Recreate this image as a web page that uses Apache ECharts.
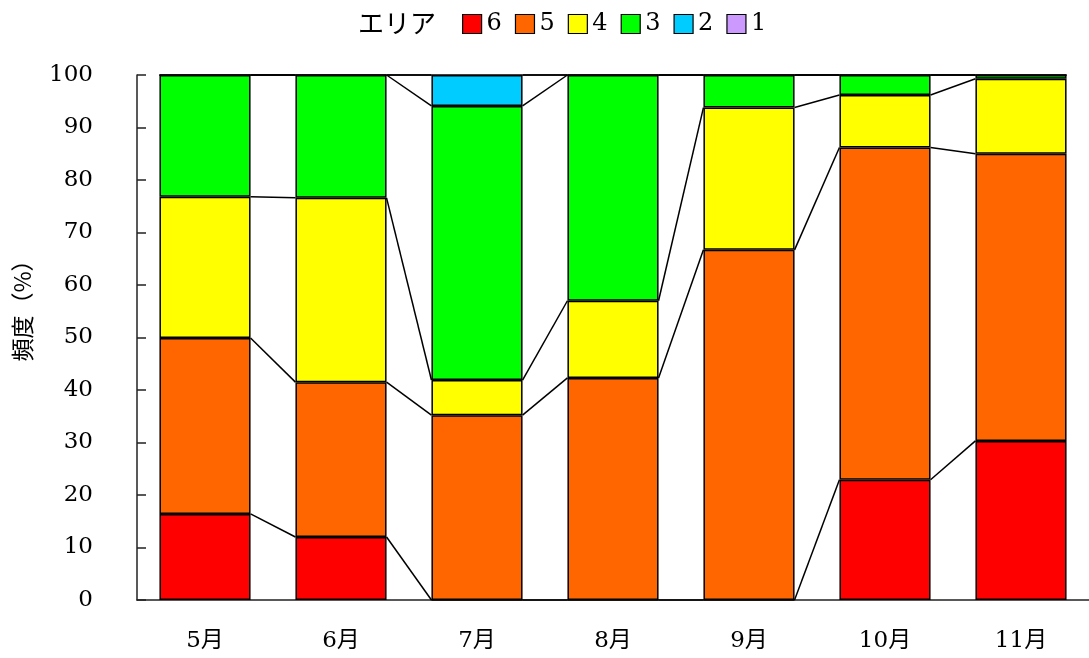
<!DOCTYPE html>
<html>
<head>
<meta charset="utf-8">
<script src="https://cdn.jsdelivr.net/npm/echarts@6/dist/echarts.min.js"></script>
<style>
html,body{margin:0;padding:0;background:#fff;}
#chart{width:1089px;height:658px;}
</style>
</head>
<body>
<div id="chart"></div>
<script>
const categories = ['5月', '6月', '7月', '8月', '9月', '10月', '11月'];
const seriesNames = ['6', '5', '4', '3', '2', '1'];
const area6 = [16.4, 12.0, 0, 0, 0, 22.9, 30.3];
const area5 = [33.5, 29.5, 35.2, 42.3, 66.7, 63.3, 54.7];
const area4 = [26.9, 35.1, 6.7, 14.7, 27.1, 10.0, 14.3];
const area3 = [23.2, 23.4, 52.2, 43.0, 6.2, 3.8, 0.7];
const area2 = [0, 0, 5.9, 0, 0, 0, 0];
const area1 = [0, 0, 0, 0, 0, 0, 0];
const yTickLabels = [0, 10, 20, 30, 40, 50, 60, 70, 80, 90, 100];
const legendTitle = 'エリア';
const yAxisTitle = '頻度（%）';

const colors = ['#ff0000', '#ff6600', '#ffff00', '#00ff00', '#00ccff', '#cc99ff'];
const seriesData = [area6, area5, area4, area3, area2, area1];

// cumulative levels (top of each stacked segment)
const levels = [];
let running = categories.map(() => 0);
seriesData.forEach(arr => {
  running = running.map((v, i) => v + arr[i]);
  levels.push(running.slice());
});

const serif = "'DejaVu Serif', 'Noto Sans CJK JP', serif";
const BAR_RATIO = 0.67;

const chart = echarts.init(document.getElementById('chart'), null, {renderer: 'canvas'});

const barSeries = seriesNames.map((name, k) => ({
  name: name,
  type: 'bar',
  stack: 'total',
  barWidth: (BAR_RATIO * 100) + '%',
  data: seriesData[k],
  itemStyle: {color: colors[k], borderColor: '#000', borderWidth: 1.5},
  emphasis: {disabled: true},
  z: 2
}));

const connector = {
  type: 'custom',
  silent: true,
  z: 3,
  data: categories.slice(0, -1).map((c, i) => [i]),
  encode: {x: 0},
  renderItem: function (params, api) {
    const i = api.value(0);
    const band = api.size([1, 0])[0];
    const half = band * BAR_RATIO / 2;
    const children = levels.map(lv => {
      const p1 = api.coord([i, lv[i]]);
      const p2 = api.coord([i + 1, lv[i + 1]]);
      return {
        type: 'line',
        shape: {x1: p1[0] + half, y1: p1[1], x2: p2[0] - half, y2: p2[1]},
        style: {stroke: '#000', lineWidth: 1.5}
      };
    });
    return {type: 'group', children: children};
  }
};

chart.setOption({
  animation: false,
  backgroundColor: '#fff',
  legend: {
    data: seriesNames,
    left: 462,
    top: 12,
    padding: 0,
    itemWidth: 19,
    itemHeight: 19,
    itemGap: 13,
    icon: 'rect',
    itemStyle: {borderColor: '#000', borderWidth: 1.2},
    textStyle: {fontFamily: serif, fontSize: 24, color: '#000'},
    selectedMode: false
  },
  graphic: [
    {
      type: 'text', x: 358, y: 23,
      style: {text: legendTitle, font: "26px 'Noto Sans CJK JP'", fill: '#000', verticalAlign: 'middle'}
    },
    {
      type: 'text', x: 22, y: 305, rotation: Math.PI / 2,
      style: {text: yAxisTitle, font: "23px 'Noto Sans CJK JP'", fill: '#000', align: 'center', verticalAlign: 'middle'}
    }
  ],
  grid: {left: 137, right: -1, top: 75, bottom: 58, containLabel: false},
  xAxis: {
    type: 'category',
    data: categories,
    boundaryGap: true,
    axisLine: {lineStyle: {color: '#222', width: 1.5}},
    axisTick: {inside: true, length: 9, alignWithLabel: false, lineStyle: {color: '#222', width: 1.5}},
    axisLabel: {margin: 30, fontFamily: serif, fontSize: 23, color: '#000'},
    splitLine: {show: false}
  },
  yAxis: {
    type: 'value',
    min: yTickLabels[0],
    max: yTickLabels[yTickLabels.length - 1],
    interval: yTickLabels[1] - yTickLabels[0],
    axisLine: {show: true, lineStyle: {color: '#222', width: 1.5}},
    axisTick: {show: true, inside: true, length: 9, lineStyle: {color: '#222', width: 1.5}},
    axisLabel: {margin: 44, fontFamily: serif, fontSize: 23, color: '#000'},
    splitLine: {show: false}
  },
  series: barSeries.concat([connector])
});
</script>
</body>
</html>
